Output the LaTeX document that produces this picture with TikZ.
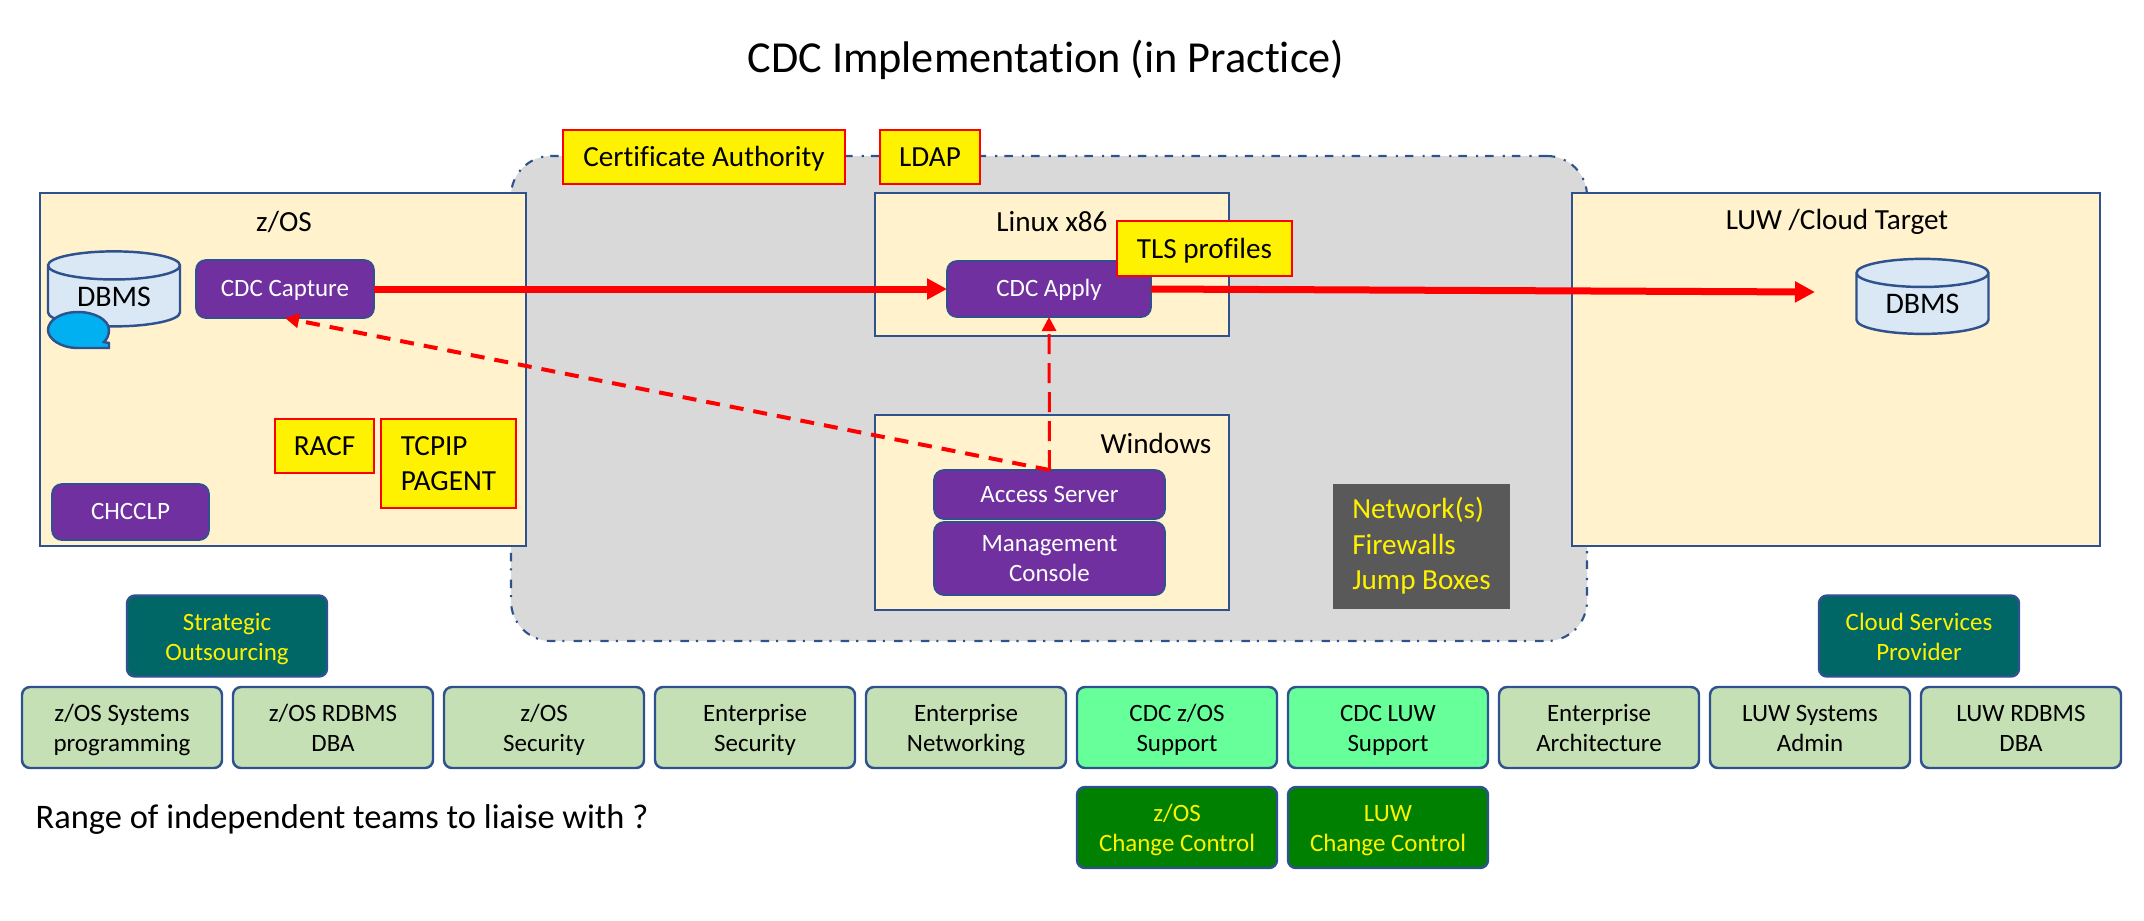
\documentclass[tikz,border=0pt]{standalone}
\usepackage{fontspec}
\setmainfont{Carlito}[Ligatures=NoCommon]
\usetikzlibrary{shapes.geometric, arrows.meta, positioning}
\definecolor{edgeblue}{HTML}{2F528F}
\definecolor{cream}{HTML}{FFF2CC}
\definecolor{zonegray}{HTML}{D9D9D9}
\definecolor{progpurple}{HTML}{7030A0}
\definecolor{dbblue}{HTML}{DAE8F6}
\definecolor{bubbleblue}{HTML}{00B0F0}
\definecolor{teamgreen}{HTML}{C5E0B4}
\definecolor{cdcgreen}{HTML}{66FF99}
\definecolor{ctrlgreen}{HTML}{008000}
\definecolor{vendorteal}{HTML}{006666}
\definecolor{netgray}{HTML}{595959}
\tikzset{
    base/.style={rectangle, inner sep=0pt, outer sep=0pt, align=center},
    platform/.style={base, draw=edgeblue, line width=0.7pt, fill=cream},
    caption/.style={inner sep=0pt, font=\fontsize{8.3}{9.9}\selectfont},
    prog/.style={base, draw=edgeblue, line width=0.5pt, fill=progpurple, text=white, rounded corners=0.1cm, font=\fontsize{7.1}{8.6}\selectfont, text height=6.8pt, text depth=2.4pt},
    config/.style={base, draw=red, line width=0.7pt, fill=yellow, minimum height=0.54cm, font=\fontsize{8.3}{9.9}\selectfont, text height=7.9pt, text depth=2.5pt},
    team/.style={base, draw=edgeblue, line width=0.7pt, rounded corners=0.08cm, minimum width=2cm, minimum height=0.81cm, font=\fontsize{7.1}{8.6}\selectfont, text height=15.9pt, text depth=2pt},
    db/.style={cylinder, shape border rotate=90, shape aspect=0.38, draw=edgeblue, line width=0.7pt, cylinder uses custom fill, cylinder body fill=dbblue, cylinder end fill=dbblue, minimum width=1.32cm, minimum height=0.75cm, inner sep=0pt, outer sep=0pt, font=\fontsize{8.5}{9.9}\selectfont},
    flow/.style={red, line width=0.07cm, -{Triangle[length=0.2cm, width=0.2cm]}},
    control/.style={red, line width=0.04cm, dash pattern=on 0.14cm off 0.1cm, -{Triangle[length=0.14cm, width=0.14cm]}}
}
\begin{document}
\begin{tikzpicture}
\useasboundingbox (0,0) rectangle (21.44,-9.20);
\node[font=\fontsize{12.6}{15}\selectfont] (title) at (10.46,-0.60) {CDC Implementation (in Practice)};
\node[base, draw=edgeblue, line width=0.6pt, dash pattern=on 2.4pt off 2pt on 0.6pt off 2.6pt, fill=zonegray, rounded corners=0.4cm, minimum width=10.76cm, minimum height=4.85cm] (zone) at (10.49,-3.985) {};
\node[platform, minimum width=4.86cm, minimum height=3.53cm] (zos) at (2.83,-3.695) {};
\node[platform, minimum width=5.28cm, minimum height=3.53cm] (luw) at (18.36,-3.695) {};
\node[platform, minimum width=3.54cm, minimum height=1.43cm] (linux) at (10.52,-2.645) {};
\node[platform, minimum width=3.54cm, minimum height=1.95cm] (windows) at (10.52,-5.125) {};
\node[caption] (zoslabel) at (2.84,-2.22) {z/OS};
\node[caption] (luwlabel) at (18.37,-2.22) {LUW /Cloud Target};
\node[caption] (linuxlabel) at (10.52,-2.22) {Linux x86};
\node[caption] (winlabel) at (11.56,-4.43) {Windows};
\node[db] (srcdb) at (1.14,-2.965) {DBMS};
\node[db] (tgtdb) at (19.225,-3.04) {DBMS};
\draw[draw=edgeblue, line width=0.7pt, fill=bubbleblue] (0.78,-3.12) .. controls (0.95,-3.12) and (1.09,-3.20) .. (1.09,-3.30) .. controls (1.09,-3.35) and (1.07,-3.39) .. (1.04,-3.42) -- (1.09,-3.43) -- (1.09,-3.48) -- (0.78,-3.48) .. controls (0.61,-3.48) and (0.48,-3.39) .. (0.48,-3.30) .. controls (0.48,-3.20) and (0.61,-3.12) .. (0.78,-3.12) -- cycle;
\node[prog, minimum width=1.78cm, minimum height=0.58cm] (capture) at (2.85,-2.89) {CDC Capture};
\node[prog, minimum width=1.57cm, minimum height=0.56cm] (chcclp) at (1.305,-5.12) {CHCCLP};
\node[prog, minimum width=2.04cm, minimum height=0.56cm] (apply) at (10.49,-2.89) {CDC Apply};
\node[prog, minimum width=2.31cm, minimum height=0.49cm] (access) at (10.495,-4.945) {Access Server};
\node[prog, minimum width=2.31cm, minimum height=0.73cm, text height=15.3pt, text depth=2pt] (mgmt) at (10.495,-5.585) {Management\\Console};
\node[config, minimum width=2.82cm] (cert) at (7.04,-1.57) {Certificate Authority};
\node[config, minimum width=1cm] (ldap) at (9.30,-1.57) {LDAP};
\node[config, minimum width=1.75cm, minimum height=0.55cm] (tls) at (12.045,-2.485) {TLS profiles};
\node[config, minimum width=0.99cm] (racf) at (3.245,-4.46) {RACF};
\node[config, minimum width=1.35cm, minimum height=0.89cm, align=left, text height=17.9pt, text depth=2.5pt] (tcpip) at (4.485,-4.635) {TCPIP\\PAGENT};
\node[base, fill=netgray, text=yellow, minimum width=1.77cm, minimum height=1.25cm, align=left, font=\fontsize{8.3}{10.1}\selectfont] (net) at (14.215,-5.46) {Network(s)\\Firewalls\\Jump Boxes};
\node[team, fill=teamgreen] (zsys) at (1.22,-7.275) {z/OS Systems\\programming};
\node[team, fill=teamgreen, right=0.11cm of zsys] (zdba) {z/OS RDBMS\\DBA};
\node[team, fill=teamgreen, right=0.11cm of zdba] (zsec) {z/OS\\Security};
\node[team, fill=teamgreen, right=0.11cm of zsec] (entsec) {Enterprise\\Security};
\node[team, fill=teamgreen, right=0.11cm of entsec] (entnet) {Enterprise\\Networking};
\node[team, fill=cdcgreen, right=0.11cm of entnet] (cdcz) {CDC z/OS\\Support};
\node[team, fill=cdcgreen, right=0.11cm of cdcz] (cdcluw) {CDC LUW\\Support};
\node[team, fill=teamgreen, right=0.11cm of cdcluw] (entarch) {Enterprise\\Architecture};
\node[team, fill=teamgreen, right=0.11cm of entarch] (luwsys) {LUW Systems\\Admin};
\node[team, fill=teamgreen, right=0.11cm of luwsys] (luwdba) {LUW RDBMS\\DBA};
\node[team, fill=ctrlgreen, text=yellow, below=0.19cm of cdcz] (zctrl) {z/OS\\Change Control};
\node[team, fill=ctrlgreen, text=yellow, below=0.19cm of cdcluw] (luwctrl) {LUW\\Change Control};
\node[team, fill=vendorteal, text=yellow] (outsource) at (2.27,-6.36) {Strategic\\Outsourcing};
\node[team, fill=vendorteal, text=yellow] (cloud) at (19.19,-6.36) {Cloud Services\\Provider};
\node[anchor=west, inner sep=0pt, font=\fontsize{9.8}{11}\selectfont] (range) at (0.35,-8.19) {Range of independent teams to liaise with ?};
\coordinate (tgtend) at (18.15,-2.92);
\draw[flow] (capture) -- (apply);
\draw[flow] (apply.east) -- (tgtend);
\draw[control] (access.north) -- (capture.south);
\draw[control, line width=0.03cm, dash pattern=on 0.2cm off 0.09cm] (access.north) -- (apply.south);
\end{tikzpicture}
\end{document}
